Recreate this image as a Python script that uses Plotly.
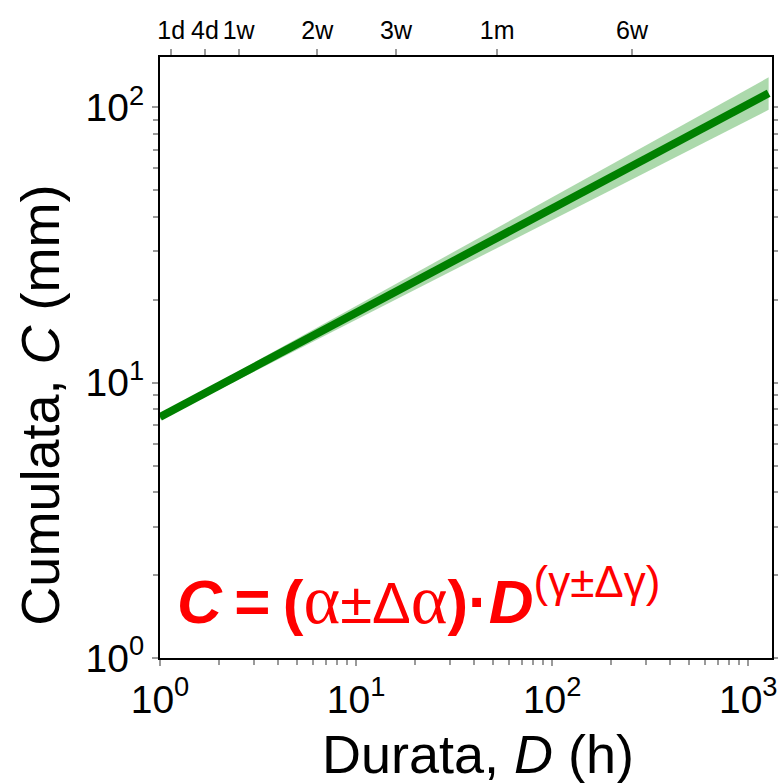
import plotly.graph_objects as go

# Fitted power law C = alpha * D^gamma, sampled at the ends of the duration range
D_h = [1, 1270]
C_mm = [7.5, 112.5]
C_low = [7.35, 98.0]
C_high = [7.65, 128.6]

# Secondary (linear) duration axis, labelled in days / weeks / months
top_hours = [24, 96, 168, 336, 504, 720, 1008]
top_labels = ["1d", "4d", "1w", "2w", "3w", "1m", "6w"]

x_major = [1, 10, 100, 1000]
x_major_text = ["10<sup>0</sup>", "10<sup>1</sup>", "10<sup>2</sup>", "10<sup>3</sup>"]
y_major = [1, 10, 100]
y_major_text = ["10<sup>0</sup>", "10<sup>1</sup>", "10<sup>2</sup>"]

x_minor = [m * 10 ** e for e in range(0, 4) for m in range(2, 10)]
y_minor = [m * 10 ** e for e in range(0, 3) for m in range(2, 10)]

FONT = "Liberation Sans, Arial, sans-serif"
TICK_GREY = "#9a9a9a"

fig = go.Figure()

fig.add_trace(go.Scatter(x=D_h, y=C_low, mode="lines", line=dict(width=0),
                         showlegend=False, hoverinfo="skip"))
fig.add_trace(go.Scatter(x=D_h, y=C_high, mode="lines", line=dict(width=0),
                         fill="tonexty", fillcolor="rgba(70,170,70,0.45)",
                         showlegend=False, hoverinfo="skip"))
fig.add_trace(go.Scatter(x=D_h, y=C_mm, mode="lines",
                         line=dict(color="#008000", width=8),
                         showlegend=False))
# carrier for the top duration axis
fig.add_trace(go.Scatter(x=top_hours, y=[1] * len(top_hours), xaxis="x2",
                         mode="markers", marker=dict(opacity=0),
                         showlegend=False, hoverinfo="skip"))

fig.update_layout(
    width=778, height=783,
    margin=dict(l=160, r=6, t=57, b=125, autoexpand=False),
    paper_bgcolor="white", plot_bgcolor="white",
    font=dict(family=FONT, color="black"),
    xaxis=dict(
        type="log", range=[0, 3.121],
        tickmode="array", tickvals=x_major, ticktext=x_major_text,
        tickfont=dict(size=39), ticks="outside", ticklen=6, tickwidth=2,
        tickcolor=TICK_GREY, showgrid=False, zeroline=False,
        showline=True, linecolor="black", linewidth=2,
        minor=dict(tickmode="array", tickvals=x_minor, ticks="outside",
                   ticklen=5, tickwidth=2, tickcolor=TICK_GREY, showgrid=False),
    ),
    xaxis2=dict(
        overlaying="x", side="top", anchor="y", range=[0, 1307],
        tickmode="array", tickvals=top_hours, ticktext=top_labels,
        tickfont=dict(size=25), tickangle=0, ticks="outside", ticklen=6, tickwidth=2,
        tickcolor=TICK_GREY, showgrid=False, zeroline=False,
        showline=True, linecolor="black", linewidth=2,
    ),
    yaxis=dict(
        type="log", range=[0, 2.183],
        tickmode="array", tickvals=y_major, ticktext=y_major_text,
        tickfont=dict(size=39), ticks="outside", ticklen=6, tickwidth=2,
        tickcolor=TICK_GREY, showgrid=False, zeroline=False,
        showline=True, linecolor="black", linewidth=2, mirror="ticks",
        minor=dict(tickmode="array", tickvals=y_minor, ticks="outside",
                   ticklen=5, tickwidth=2, tickcolor=TICK_GREY, showgrid=False),
    ),
)

# axis titles as free text so they can sit slightly off-centre
fig.add_annotation(text="Durata, <i>D</i> (h)",
                   xref="paper", yref="paper", x=0.52, y=-0.16,
                   xanchor="center", yanchor="middle", showarrow=False,
                   font=dict(size=54, color="black", family=FONT))
fig.add_annotation(text="Cumulata, <i>C</i> (mm)", textangle=-90,
                   xref="paper", yref="paper", x=-0.196, y=0.42,
                   xanchor="center", yanchor="middle", showarrow=False,
                   font=dict(size=54, color="black", family=FONT))

SERIF = "Liberation Serif, Times New Roman, serif"
formula = (
    '<b><i>C</i>\u2009=\u2009(</b>'
    f'<span style="font-family:{SERIF};font-size:70px">α</span>'
    '<span style="font-size:58px">±Δ</span>'
    f'<span style="font-family:{SERIF};font-size:70px">α</span>'
    '<b>)·<i>D</i></b>'
    '<sup><span style="font-size:44px">(γ±Δγ)</span></sup>'
)
fig.add_annotation(text=formula, xref="paper", yref="paper", x=0.025, y=0.03,
                   xanchor="left", yanchor="bottom", showarrow=False,
                   font=dict(size=62, color="#ff0000", family=FONT))

fig.write_html("out.html")
